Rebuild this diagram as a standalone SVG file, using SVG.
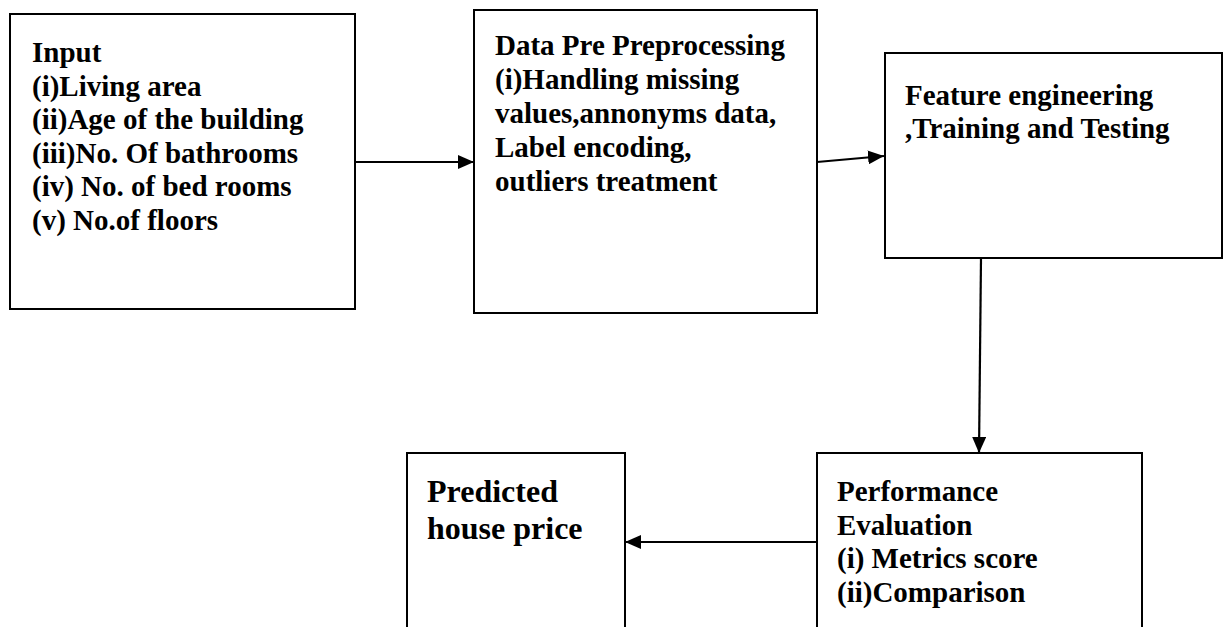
<svg xmlns="http://www.w3.org/2000/svg" width="1223" height="627" viewBox="0 0 1223 627">
<style>
.box{fill:#fff;stroke:#000;stroke-width:2}
.t{font-family:"Liberation Serif","Times New Roman",serif;font-weight:bold;font-size:29px;fill:#000}
.t2{font-size:32px}
.c{stroke:#000;stroke-width:2.2;fill:none;marker-end:url(#ah)}
</style>
<defs>
<marker id="ah" viewBox="0 0 16 14" refX="16" refY="7" markerWidth="16" markerHeight="14" markerUnits="userSpaceOnUse" orient="auto">
<path d="M0,0 L16,7 L0,14 Z" fill="#000"/>
</marker>
</defs>
<rect width="1223" height="627" fill="#fff"/>
<g id="connectors">
<line class="c" x1="355" y1="162" x2="474" y2="162"/>
<line class="c" x1="817" y1="162" x2="884" y2="156"/>
<line class="c" x1="981" y1="258" x2="979" y2="453"/>
<line class="c" x1="817" y1="542" x2="625" y2="542"/>
</g>
<g id="input">
<rect class="box" x="10" y="14" width="345" height="295"/>
<text class="t" x="32"><tspan x="32" y="62">Input</tspan><tspan x="32" y="95.6">(i)Living area</tspan><tspan x="32" y="129.2">(ii)Age of the building</tspan><tspan x="32" y="162.8">(iii)No. Of bathrooms</tspan><tspan x="32" y="196.4">(iv) No. of bed rooms</tspan><tspan x="32" y="230">(v) No.of floors</tspan></text>
</g>
<g id="preprocessing">
<rect class="box" x="474" y="10" width="343" height="303"/>
<text class="t"><tspan x="495" y="55">Data Pre Preprocessing</tspan><tspan x="495" y="89">(i)Handling missing</tspan><tspan x="495" y="123">values,annonyms data,</tspan><tspan x="495" y="157">Label encoding,</tspan><tspan x="495" y="191">outliers treatment</tspan></text>
</g>
<g id="feature">
<rect class="box" x="885" y="53" width="337" height="205"/>
<text class="t"><tspan x="905" y="105">Feature engineering</tspan><tspan x="905" y="138">,Training and Testing</tspan></text>
</g>
<g id="performance">
<rect class="box" x="817" y="453" width="325" height="200"/>
<text class="t"><tspan x="837" y="501">Performance</tspan><tspan x="837" y="535">Evaluation</tspan><tspan x="837" y="568">(i) Metrics score</tspan><tspan x="837" y="602">(ii)Comparison</tspan></text>
</g>
<g id="predicted">
<rect class="box" x="407" y="453" width="218" height="200"/>
<text class="t t2"><tspan x="427" y="502">Predicted</tspan><tspan x="427" y="539">house price</tspan></text>
</g>
</svg>
